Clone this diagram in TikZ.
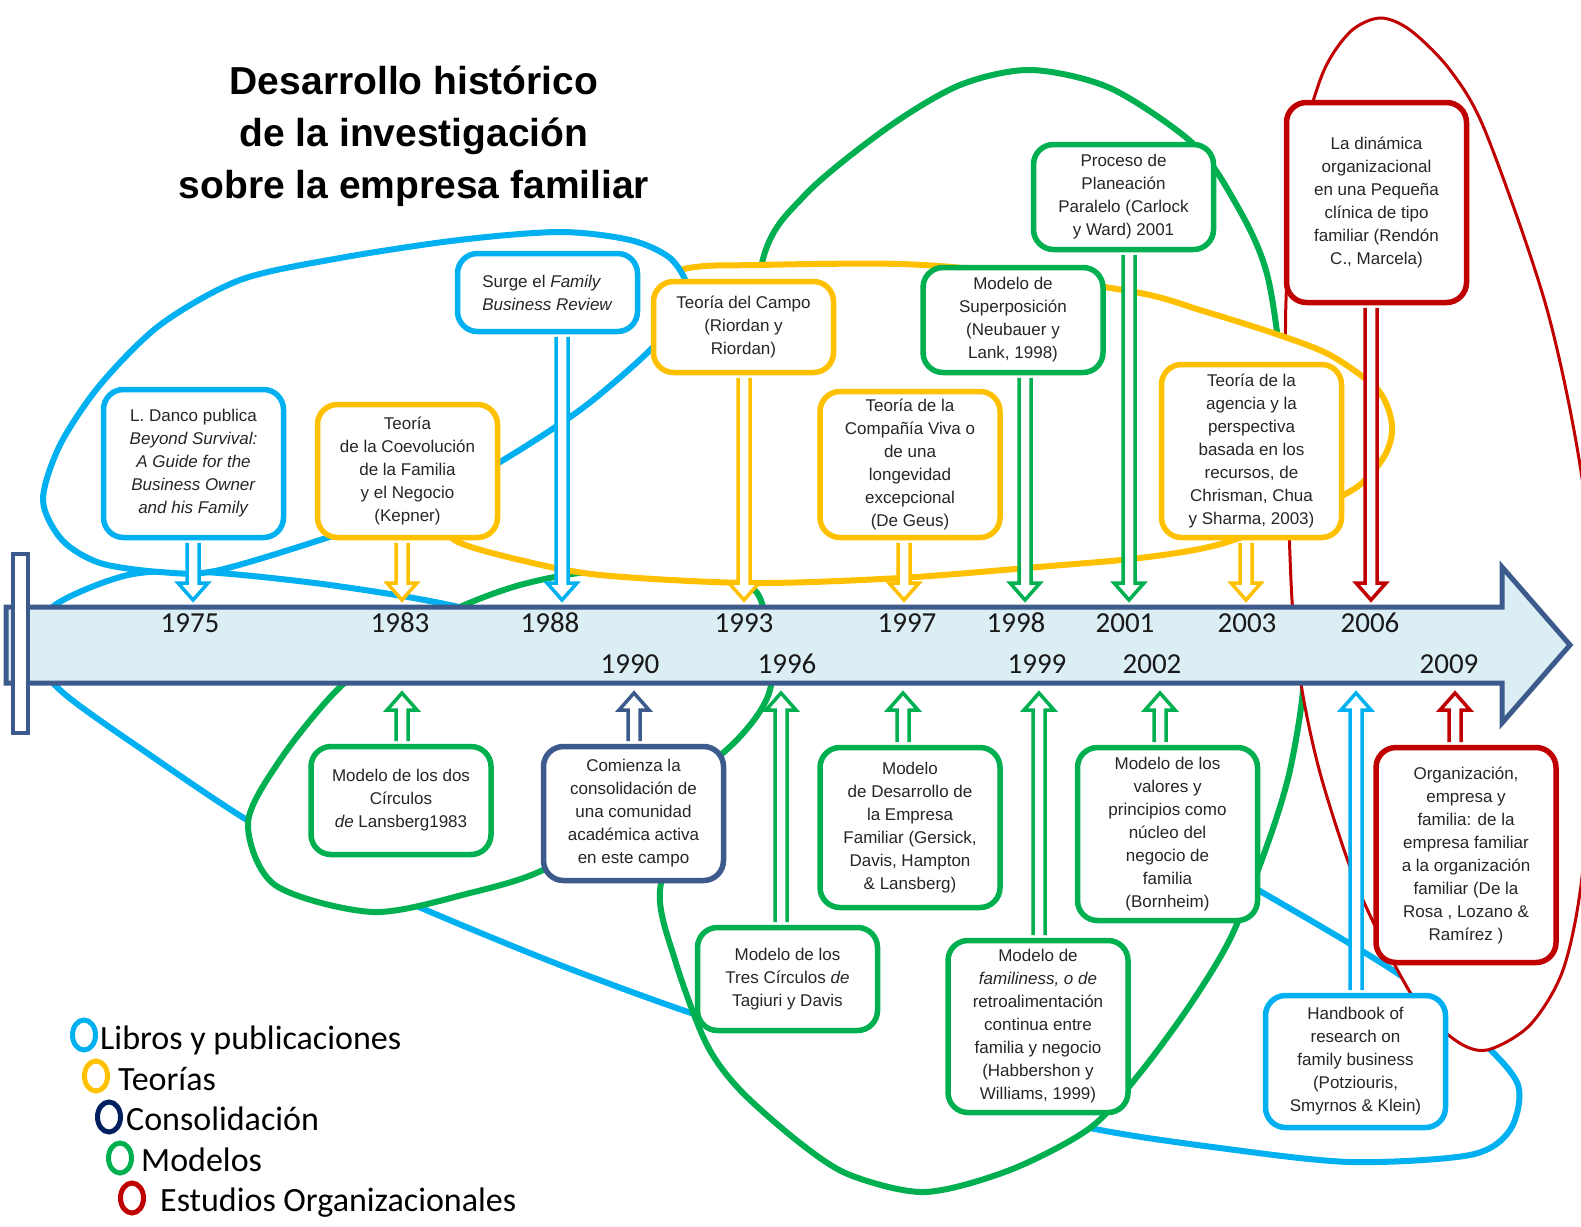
\documentclass[tikz,border=0pt]{standalone}
\usepackage{fontspec}
\setmainfont{Liberation Sans}
\newfontfamily\calibrifont{Carlito}
\usetikzlibrary{calc,shapes.geometric}

\definecolor{libros}{RGB}{0,176,240}
\definecolor{teorias}{RGB}{255,192,0}
\definecolor{modelos}{RGB}{0,176,80}
\definecolor{estudios}{RGB}{192,0,0}
\definecolor{consol}{RGB}{60,90,140}
\definecolor{consolring}{RGB}{0,32,96}
\definecolor{tlline}{RGB}{60,90,140}
\definecolor{tlfill}{RGB}{219,238,244}

\newcommand{\boxfont}{\fontsize{17pt}{23pt}\selectfont}
\newcommand{\yearfont}{\calibrifont\fontsize{29pt}{34pt}\selectfont}
\newcommand{\legendfont}{\calibrifont\fontsize{34pt}{40pt}\selectfont}

\tikzstyle{evbox}=[rectangle, draw, rounded corners=20pt, line width=5.5pt, fill=white, minimum width=180pt, inner sep=0pt, align=center, font=\boxfont, text=black!85]
\tikzstyle{groupline}=[line width=6pt]
\tikzstyle{yearlabel}=[font=\yearfont, text=black!90, inner sep=0pt]
\tikzstyle{legendring}=[ellipse, draw, line width=5pt, minimum width=23pt, minimum height=30pt, inner sep=0pt]
\tikzstyle{legendtext}=[anchor=base west, font=\legendfont, inner sep=0pt]

% hollow arrow from a box edge to the time line
\newcommand{\tlarrow}[3]{%
  \path[draw=#1, fill=white, line width=3.5pt, line join=miter]
    let \p1=($(#2)!2.7pt!(#3)$), \p2=(#3), \p3=($(#3)!17pt!(#2)$) in
    (\x1-6pt,\y1) -- (\x3-6pt,\y3) -- (\x3-15pt,\y3) -- (\x2,\y2)
    -- (\x3+15pt,\y3) -- (\x3+6pt,\y3) -- (\x1+6pt,\y1);}

\begin{document}
\begin{tikzpicture}[x=1pt, y=-1pt]
    \useasboundingbox (0,0) rectangle (1581,1226);

    % grouping curves
    \draw[groupline, libros] plot[smooth cycle] coordinates {(128,575) (204,572) (330,585) (459,607) (620,650) (800,668) (950,720) (1150,830) (1272,898) (1400,975) (1480,1040) (1518,1085) (1510,1130) (1470,1155) (1350,1162) (1220,1148) (1090,1128) (950,1092) (820,1052) (697,1015) (560,965) (419,907) (330,865) (247,820) (150,755) (60,690) (32,645) (55,605)};
    \draw[groupline, modelos, fill=white] plot[smooth cycle] coordinates {(762,263) (805,195) (887,128) (960,85) (1031,70) (1110,88) (1189,140) (1228,190) (1268,278) (1290,450) (1302,620) (1303,690) (1290,770) (1270,837) (1232,935) (1190,1005) (1140,1073) (1090,1128) (1010,1170) (925,1192) (850,1175) (800,1143) (740,1090) (706,1043) (675,960) (660,890) (690,800) (735,700) (748,600) (746,450)};
    \draw[groupline, modelos, fill=white] plot[smooth cycle] coordinates {(460,607) (400,640) (337,690) (280,760) (248,823) (275,885) (373,912) (470,893) (543,870) (620,820) (723,753) (770,690) (763,607) (743,583) (680,568) (587,572) (520,585)};
    \draw[line width=3pt, estudios, fill=white] plot[smooth cycle] coordinates {(1380,18) (1410,30) (1450,70) (1486,133) (1548,313) (1585,500) (1595,700) (1582,877) (1563,970) (1530,1025) (1487,1050) (1455,1040) (1413,997) (1360,893) (1322,780) (1302,690) (1292,600) (1287,450) (1286,300) (1297,167) (1322,75) (1350,32)};
    \draw[groupline, teorias, fill=white] plot[smooth cycle] coordinates {(420,470) (440,520) (458,542) (520,560) (600,575) (750,583) (900,578) (1050,566) (1140,558) (1217,545) (1300,515) (1357,487) (1385,455) (1392,425) (1378,390) (1330,355) (1273,333) (1200,310) (1140,293) (1000,272) (900,264) (760,265) (680,270) (600,310) (520,380) (460,430)};
    \draw[groupline, libros, fill=white] plot[smooth cycle] coordinates {(43,500) (62,540) (100,563) (160,572) (215,571) (320,540) (420,505) (500,462) (580,410) (645,355) (680,315) (688,288) (670,258) (630,240) (560,232) (459,240) (340,258) (240,280) (160,325) (100,385) (60,445)};

    % time line
    \draw[line width=5pt, tlline, fill=tlfill, line join=miter] (6,607) -- (1502,607) -- (1502,567) -- (1570,645) -- (1502,723) -- (1502,683) -- (6,683) -- cycle;
    \draw[line width=4pt, tlline, fill=white] (13,554) rectangle (28,733);

    \foreach \yr/\x in {1975/190, 1983/400, 1988/550, 1993/744, 1997/907, 1998/1016, 2001/1125, 2003/1247, 2006/1370}
        \node[yearlabel] (y\yr) at (\x,623) {\yr};
    \foreach \yr/\x in {1990/630, 1996/787, 1999/1037, 2002/1152, 2009/1449}
        \node[yearlabel] (y\yr) at (\x,664) {\yr};

    \foreach \name/\x in {a1975/193, a1983/402, a1988/562, a1993/744, a1997/904, a1998/1025, a2001/1129, a2003/1246, a2006/1371}
        \coordinate (\name) at (\x,600);
    \foreach \name/\x in {b1983/402, b1990/634, b1996/781, b1997/903, b1999/1039, b2002/1160, bhb/1356, b2009/1455}
        \coordinate (\name) at (\x,693);

    % events above the line
    \node[evbox, draw=libros, minimum height=148pt] (danco) at (193.5,463.5) {L. Danco publica\\ \textit{Beyond Survival:}\\ \textit{A Guide for the}\\ \textit{Business Owner}\\ \textit{and his Family}};
    \node[evbox, draw=teorias, minimum height=133pt] (kepner) at (407.5,471) {Teoría\\ de la Coevolución\\ de la Familia\\ y el Negocio\\ (Kepner)};
    \node[evbox, draw=libros, minimum height=78pt, align=left] (fbr) at (547.5,292.5) {Surge el \textit{Family}\\ \textit{Business Review}};
    \node[evbox, draw=teorias, minimum height=91pt] (campo) at (743.5,327) {Teoría del Campo\\ (Riordan y\\ Riordan)};
    \node[evbox, draw=teorias, minimum height=146pt] (degeus) at (910,464.5) {Teoría de la\\ Compañía Viva o\\ de una\\ longevidad\\ excepcional\\ (De Geus)};
    \node[evbox, draw=modelos, minimum height=105pt] (superpos) at (1013,320) {Modelo de\\ Superposición\\ (Neubauer y\\ Lank, 1998)};
    \node[evbox, draw=modelos, minimum height=105pt] (planeacion) at (1123.5,197) {Proceso de\\ Planeación\\ Paralelo (Carlock\\ y Ward) 2001};
    \node[evbox, draw=teorias, minimum height=173pt] (chrisman) at (1251.5,451) {Teoría de la\\ agencia y la\\ perspectiva\\ basada en los\\ recursos, de\\ Chrisman, Chua\\ y Sharma, 2003)};
    \node[evbox, draw=estudios, minimum height=200pt] (rendon) at (1376.5,202.5) {La dinámica\\ organizacional\\ en una Pequeña\\ clínica de tipo\\ familiar (Rendón\\ C., Marcela)};

    % events below the line
    \node[evbox, draw=modelos, minimum height=108pt] (dosc) at (401,800.5) {Modelo de los dos\\ Círculos\\ \textit{de} Lansberg1983};
    \node[evbox, draw=consol, minimum height=134pt] (comienza) at (633.5,813.5) {Comienza la\\ consolidación de\\ una comunidad\\ académica activa\\ en este campo};
    \node[evbox, draw=modelos, minimum height=103pt] (tresc) at (787.5,979) {Modelo de los\\ Tres Círculos \textit{de}\\ Tagiuri y Davis};
    \node[evbox, draw=modelos, minimum height=160pt] (desarrollo) at (910,827.5) {Modelo\\ de Desarrollo de\\ la Empresa\\ Familiar (Gersick,\\ Davis, Hampton\\ \& Lansberg)};
    \node[evbox, draw=modelos, minimum height=172pt] (familiness) at (1038,1026.5) {Modelo de\\ \textit{familiness, o de}\\ retroalimentación\\ continua entre\\ familia y negocio\\ (Habbershon y\\ Williams, 1999)};
    \node[evbox, draw=modelos, minimum height=173pt] (bornheim) at (1167.5,834) {Modelo de los\\ valores y\\ principios como\\ núcleo del\\ negocio de\\ familia\\ (Bornheim)};
    \node[evbox, draw=libros, minimum height=132pt] (handbook) at (1355.5,1061.5) {Handbook of\\ research on\\ family business\\ (Potziouris,\\ Smyrnos \& Klein)};
    \node[evbox, draw=estudios, minimum height=215pt] (organiz) at (1466,855) {Organización,\\ empresa y\\ familia: de la\\ empresa familiar\\ a la organización\\ familiar (De la\\ Rosa , Lozano \&\\ Ramírez )};

    % arrows to the time line
    \foreach \src/\tip/\col in {danco/a1975/libros, kepner/a1983/teorias, fbr/a1988/libros, campo/a1993/teorias, degeus/a1997/teorias, superpos/a1998/modelos, planeacion/a2001/modelos, chrisman/a2003/teorias, rendon/a2006/estudios}
        {\tlarrow{\col}{\src.south -| \tip}{\tip}}
    \foreach \src/\tip/\col in {dosc/b1983/modelos, comienza/b1990/consol, tresc/b1996/modelos, desarrollo/b1997/modelos, familiness/b1999/modelos, bornheim/b2002/modelos, handbook/bhb/libros, organiz/b2009/estudios}
        {\tlarrow{\col}{\src.north -| \tip}{\tip}}

    \node[align=center, font=\fontsize{39pt}{52pt}\selectfont\bfseries, inner sep=0pt] (title) at (414,136) {Desarrollo histórico\\ de la investigación\\ sobre la empresa familiar};

    % legend
    \node[legendring, draw=libros] (rlibros) at (84,1035) {};
    \node[legendtext] (tlibros) at (100,1049) {Libros y publicaciones};
    \node[legendring, draw=teorias] (rteorias) at (96,1076) {};
    \node[legendtext] (tteorias) at (118,1090) {Teorías};
    \node[legendring, draw=consolring] (rconsol) at (109,1117) {};
    \node[legendtext] (tconsol) at (126,1130) {Consolidación};
    \node[legendring, draw=modelos] (rmodelos) at (120,1158) {};
    \node[legendtext] (tmodelos) at (141,1171) {Modelos};
    \node[legendring, draw=estudios] (restudios) at (132,1198) {};
    \node[legendtext] (testudios) at (160,1211) {Estudios Organizacionales};
\end{tikzpicture}
\end{document}
